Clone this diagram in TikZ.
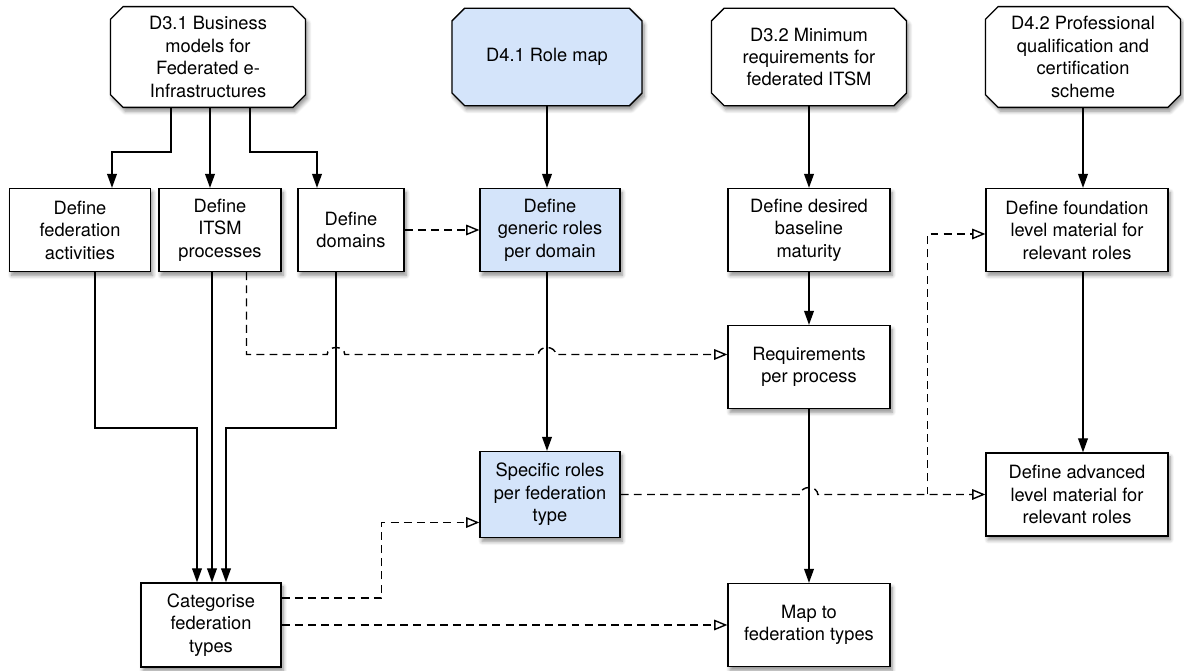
\documentclass[tikz,border=0pt]{standalone}
\usepackage{fontspec}
\setmainfont{TeX Gyre Heros}
\usepackage{tikz}
\usetikzlibrary{arrows.meta, shapes.misc, shadows.blur}
\definecolor{rolefill}{RGB}{212,228,250}

\begin{document}
\begin{tikzpicture}[x=0.02cm, y=-0.02cm,
    every node/.style={font=\fontsize{10.4}{12.8}\selectfont, align=center},
    procbox/.style={draw, line width=0.75pt, fill=white, minimum height=1.66cm,
      inner sep=2pt, blur shadow={shadow blur steps=6, shadow opacity=45,
        shadow xshift=1.2pt, shadow yshift=-2.2pt, shadow blur radius=2.2pt}},
    delivbox/.style={procbox, chamfered rectangle, chamfered rectangle xsep=3.6pt,
      chamfered rectangle ysep=3.6pt, minimum width=3.9cm, minimum height=1.95cm},
    solidarr/.style={line width=0.75pt, -{Triangle[length=8pt, width=5.6pt]}},
    dasharr/.style={line width=0.8pt, dash pattern=on 4.5pt off 3pt,
      -{Triangle[open, fill=white, length=7.5pt, width=6pt]}}]
        \useasboundingbox (0,0) rectangle (1184,671);
        % deliverables
        \node[delivbox] (d31) at (208,57) {D3.1 Business\\models for\\Federated e-\\Infrastructures};
        \node[delivbox, fill=rolefill, minimum width=3.8cm] (d41) at (547,57) {D4.1 Role map};
        \node[delivbox] (d32) at (809,57) {D3.2 Minimum\\requirements for\\federated ITSM};
        \node[delivbox] (d42) at (1083,57) {D4.2 Professional\\qualification and\\certification\\scheme};
        % steps
        \node[procbox, minimum width=2.82cm] (fed) at (80,230) {Define\\federation\\activities};
        \node[procbox, minimum width=2.44cm] (itsm) at (220,230) {Define\\ITSM\\processes};
        \node[procbox, minimum width=2.12cm] (dom) at (351,230) {Define\\domains};
        \node[procbox, fill=rolefill, minimum width=2.8cm] (gen) at (550,230) {Define\\generic roles\\per domain};
        \node[procbox, minimum width=3.24cm] (base) at (809,230) {Define desired\\baseline\\maturity};
        \node[procbox, minimum width=3.64cm] (found) at (1077,230) {Define foundation\\level material  for\\relevant roles};
        \node[procbox, minimum width=3.24cm] (req) at (809,367) {Requirements\\per process};
        \node[procbox, fill=rolefill, minimum width=2.8cm, minimum height=1.72cm] (spec) at (550,494.5) {Specific roles\\per federation\\type};
        \node[procbox, minimum width=3.64cm] (adv) at (1077,494.5) {Define advanced\\level material for\\relevant roles};
        \node[procbox, minimum width=2.8cm, minimum height=1.68cm] (cat) at (211,625) {Categorise\\federation\\types};
        \node[procbox, minimum width=3.24cm] (map) at (809,625) {Map to\\federation types};
        \coordinate (split) at (927.5,494.5);

        \draw[solidarr] (d31.south -| 171,0) -- ++(0,44) -| (fed.north -| 112,0);
        \draw[solidarr] (d31.south -| 210,0) -- (itsm.north -| 210,0);
        \draw[solidarr] (d31.south -| 250,0) -- ++(0,44) -| (dom.north -| 317,0);
        \draw[solidarr] (d41.south) -- (d41.south |- gen.north);
        \draw[solidarr] (d32.south) -- (d32.south |- base.north);
        \draw[solidarr] (d42.south) -- (d42.south |- found.north);
        \draw[solidarr] (base) -- (req);
        \draw[solidarr] (req) -- (map);
        \draw[solidarr] (d41.south |- gen.south) -- (d41.south |- spec.north);
        \draw[solidarr] (d42.south |- found.south) -- (d42.south |- adv.north);
        \draw[solidarr] (fed.south -| 95,0) -- ++(0,156) -| (cat.north -| 197,0);
        \draw[solidarr] (itsm.south -| 212,0) -- (cat.north -| 212,0);
        \draw[solidarr] (dom.south -| 336,0) -- ++(0,156) -| (cat.north -| 226,0);

        \draw[dasharr] (dom.east) -- (gen.west);
        \draw[dasharr] (itsm.south -| 246.5,0) |- ([xshift=-5pt]336,354.5)
          arc[start angle=180, end angle=0, x radius=5pt, y radius=4pt]
          -- ([xshift=-5pt]547,354.5)
          arc[start angle=180, end angle=0, x radius=5pt, y radius=4pt]
          -- (req.west |- 0,354.5);
        \draw[dasharr] (spec.east) -- ([xshift=-5pt]spec.east -| req.south)
          arc[start angle=180, end angle=0, x radius=5pt, y radius=4pt]
          -- (adv.west);
        \draw[dasharr] (split) |- ([yshift=-0.08cm]found.west);
        \draw[dasharr] ([yshift=0.54cm]cat.east) -- ++(2cm,0) |- ([yshift=-0.56cm]spec.west);
        \draw[dasharr] (cat.east) -- (map.west);
      \end{tikzpicture}
\end{document}
